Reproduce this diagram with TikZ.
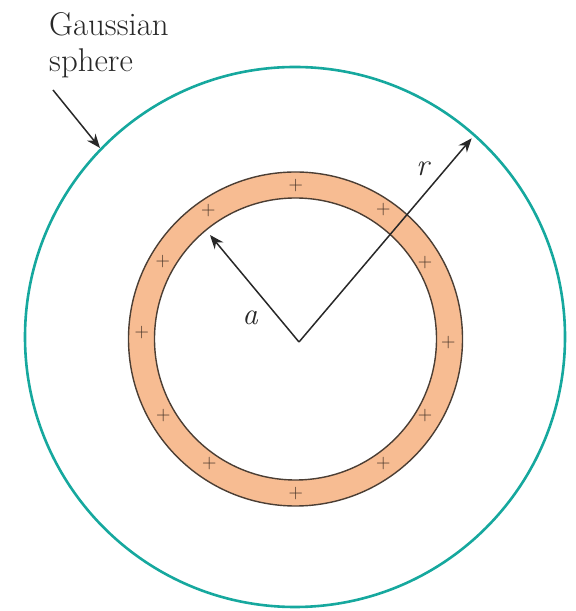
\documentclass[tikz,border=0pt]{standalone}
\usetikzlibrary{arrows.meta}
\definecolor{gausscol}{RGB}{22,168,158}
\definecolor{ringfill}{RGB}{247,188,146}
\definecolor{ringline}{RGB}{75,62,52}
\definecolor{arrowcol}{RGB}{40,40,40}
\definecolor{pluscol}{RGB}{70,52,40}
\tikzset{
  vec/.style={draw=arrowcol, line width=1.5bp, -{Stealth[length=14bp,width=11bp]}},
  plussign/.style={text=pluscol, inner sep=0pt, font=\fontsize{20}{20}\selectfont},
  label text/.style={text=arrowcol, inner sep=0pt, font=\fontsize{33}{36}\selectfont},
  var text/.style={text=arrowcol, inner sep=0pt, font=\fontsize{31}{31}\selectfont\itshape},
}
\begin{document}
\begin{tikzpicture}[x=1bp,y=1bp]
\useasboundingbox (0,0) rectangle (576,611);
% Gaussian sphere
\draw[gausscol, line width=2.6bp] (295,274) circle [radius=270];
% charged shell
\fill[ringfill, even odd rule] (295.5,272) circle [radius=167] (295.5,272) circle [radius=141];
\draw[ringline, line width=1.4bp] (295.5,272) circle [radius=167];
\draw[ringline, line width=1.4bp] (295.5,272) circle [radius=141];
% plus signs
\foreach \px/\py [count=\i] in {295.7/425, 208.3/400.3, 383.3/401, 162.7/349.3, 425/348.3, 141.7/278.3, 448.3/268.3, 163.3/195, 425/195, 209.3/147, 383.3/147, 295.7/117.7}
  \node[plussign] (p\i) at (\px,\py) {+};
% radius vectors
\coordinate (O) at (299,269);
\coordinate (atip) at (210,376);
\coordinate (rtip) at (471.7,472.7);
\draw[vec] (O) -- (atip);
\draw[vec] (O) -- (rtip);
\node[var text] (alabel) at (250,293) {a};
\node[var text] (rlabel) at (422.5,442) {r};
% Gaussian sphere label
\node[label text, anchor=base west] (gauss) at (49,575.3) {Gaussian};
\node[label text, anchor=base west] (sphere) at (49,539) {sphere};
\coordinate (gstart) at (53,521);
\coordinate (gtip) at (100,463);
\draw[vec] (gstart) -- (gtip);
\end{tikzpicture}
\end{document}
